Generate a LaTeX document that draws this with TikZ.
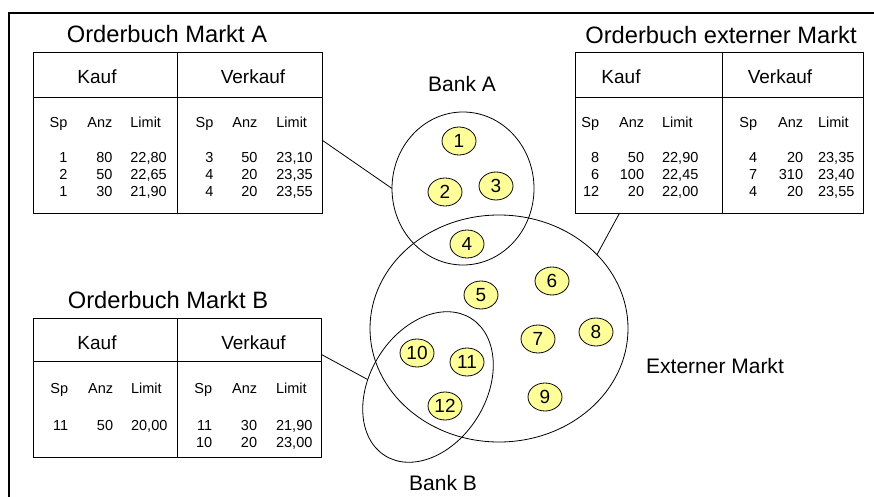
\documentclass[tikz,border=0pt]{standalone}
\usepackage{fontspec}
\setmainfont{Liberation Sans}
\usetikzlibrary{shapes.geometric, shadows}
\definecolor{spgelb}{RGB}{255,255,153}
\tikzset{
    tablenode/.style={
        rectangle,
        draw,
        fill=white,
        line width=0.8pt,
        inner sep=0,
        outer sep=0,
        drop shadow={shadow xshift=1.3pt, shadow yshift=-1.3pt, fill=black!45, opacity=1}
    },
    spnode/.style={
        ellipse,
        draw,
        fill=spgelb, % blasses Gelb
        line width=0.8pt,
        minimum width=34pt,
        minimum height=28pt,
        inner sep=0,
        font=\fontsize{19}{22}\selectfont
    },
    banknode/.style={
        ellipse,
        draw,
        line width=0.8pt,
        inner sep=0,
        outer sep=0
    },
    titlenode/.style={font=\fontsize{23.7}{27}\selectfont},
    headnode/.style={font=\fontsize{19}{22}\selectfont},
    colsnode/.style={anchor=base west, inner sep=0, font=\fontsize{14.5}{17}\selectfont},
    labelnode/.style={font=\fontsize{21}{24}\selectfont}
}

\begin{document}
\begin{tikzpicture}[x=1pt, y=1pt, line width=0.8pt]
    \useasboundingbox (0,0) rectangle (874,-497);
    % Rahmen oben und links
    \draw[line width=2.5pt] (9,-497) -- (9,-13) -- (880,-13);

    % Orderbuch Markt A
    \node[titlenode] (titA) at (167,-34) {Orderbuch Markt A};
    \node[tablenode, minimum width=289pt, minimum height=161pt] (tabA) at (177.5,-132.5) {};
    \draw (tabA.north) -- (tabA.south);
    \draw (tabA.west |- 0,-97) -- (tabA.east |- 0,-97);
    \node[headnode] (kaufA) at (97,-77) {Kauf};
    \node[headnode] (verkA) at (253,-77) {Verkauf};
    \node[colsnode] (colsKA) at (49.3,-128) {%
        \begin{tabular}[t]{@{}r@{\hspace{20pt}}r@{\hspace{18pt}}l@{}}
            Sp & Anz & Limit\\[18pt]
            1 & 80 & 22,80\\
            2 & 50 & 22,65\\
            1 & 30 & 21,90
        \end{tabular}};
    \node[colsnode] (colsVA) at (195.3,-128) {%
        \begin{tabular}[t]{@{}r@{\hspace{19pt}}r@{\hspace{19pt}}l@{}}
            Sp & Anz & Limit\\[18pt]
            3 & 50 & 23,10\\
            4 & 20 & 23,35\\
            4 & 20 & 23,55
        \end{tabular}};

    % Orderbuch externer Markt
    \node[titlenode] (titX) at (721,-35) {Orderbuch externer Markt};
    \node[tablenode, minimum width=288pt, minimum height=161pt] (tabX) at (719,-132.5) {};
    \draw (tabX.north) ++(3,0) -- ++(0,-161);
    \draw (tabX.west |- 0,-97) -- (tabX.east |- 0,-97);
    \node[headnode] (kaufX) at (621,-77) {Kauf};
    \node[headnode] (verkX) at (780,-77) {Verkauf};
    \node[colsnode] (colsKX) at (581,-128) {%
        \begin{tabular}[t]{@{}r@{\hspace{20pt}}r@{\hspace{18pt}}l@{}}
            Sp & Anz & Limit\\[18pt]
            8 & 50 & 22,90\\
            6 & 100 & 22,45\\
            12 & 20 & 22,00
        \end{tabular}};
    \node[colsnode] (colsVX) at (739,-128) {%
        \begin{tabular}[t]{@{}r@{\hspace{21pt}}r@{\hspace{15pt}}l@{}}
            Sp & Anz & Limit\\[18pt]
            4 & 20 & 23,35\\
            7 & 310 & 23,40\\
            4 & 20 & 23,55
        \end{tabular}};

    % Orderbuch Markt B
    \node[titlenode] (titB) at (168,-300) {Orderbuch Markt B};
    \node[tablenode, minimum width=288pt, minimum height=139pt] (tabB) at (177,-387.5) {};
    \draw (tabB.north) -- (tabB.south);
    \draw (tabB.west |- 0,-361) -- (tabB.east |- 0,-361);
    \node[headnode] (kaufB) at (97,-343) {Kauf};
    \node[headnode] (verkB) at (253.5,-343) {Verkauf};
    \node[colsnode] (colsKB) at (50,-393) {%
        \begin{tabular}[t]{@{}r@{\hspace{20pt}}r@{\hspace{18pt}}l@{}}
            Sp & Anz & Limit\\[20pt]
            11 & 50 & 20,00
        \end{tabular}};
    \node[colsnode] (colsVB) at (194,-393) {%
        \begin{tabular}[t]{@{}r@{\hspace{20pt}}r@{\hspace{19pt}}l@{}}
            Sp & Anz & Limit\\[20pt]
            11 & 30 & 21,90\\
            10 & 20 & 23,00
        \end{tabular}};

    % Banken und Markt
    \node[banknode, minimum width=142pt, minimum height=153pt] (bankA) at (463,-188.5) {};
    \node[banknode, minimum width=258pt, minimum height=227pt] (extM) at (499,-328.5) {};
    \node[banknode, minimum width=162pt, minimum height=116pt, rotate=58] (bankB) at (428,-387) {};
    \node[labelnode] (lblA) at (462,-84) {Bank A};
    \node[labelnode] (lblX) at (715,-366) {Externer Markt};
    \node[labelnode] (lblB) at (443,-483) {Bank B};

    % Verbindungen Orderbuch - Markt
    \draw (tabA.-3) -- (bankA.west);
    \draw (tabX.219) -- (extM.37);
    \draw (tabB.13) -- (bankB.115);

    % Spieler
    \node[spnode] (s1) at (459,-141) {1};
    \node[spnode] (s2) at (445,-192) {2};
    \node[spnode] (s3) at (496,-186) {3};
    \node[spnode] (s4) at (467,-244) {4};
    \node[spnode] (s5) at (481,-295) {5};
    \node[spnode] (s6) at (552,-281) {6};
    \node[spnode] (s7) at (538,-339) {7};
    \node[spnode] (s8) at (596,-332) {8};
    \node[spnode] (s9) at (545,-397) {9};
    \node[spnode] (s10) at (417,-353) {10};
    \node[spnode] (s11) at (467,-362) {11};
    \node[spnode] (s12) at (445,-406) {12};
\end{tikzpicture}
\end{document}
